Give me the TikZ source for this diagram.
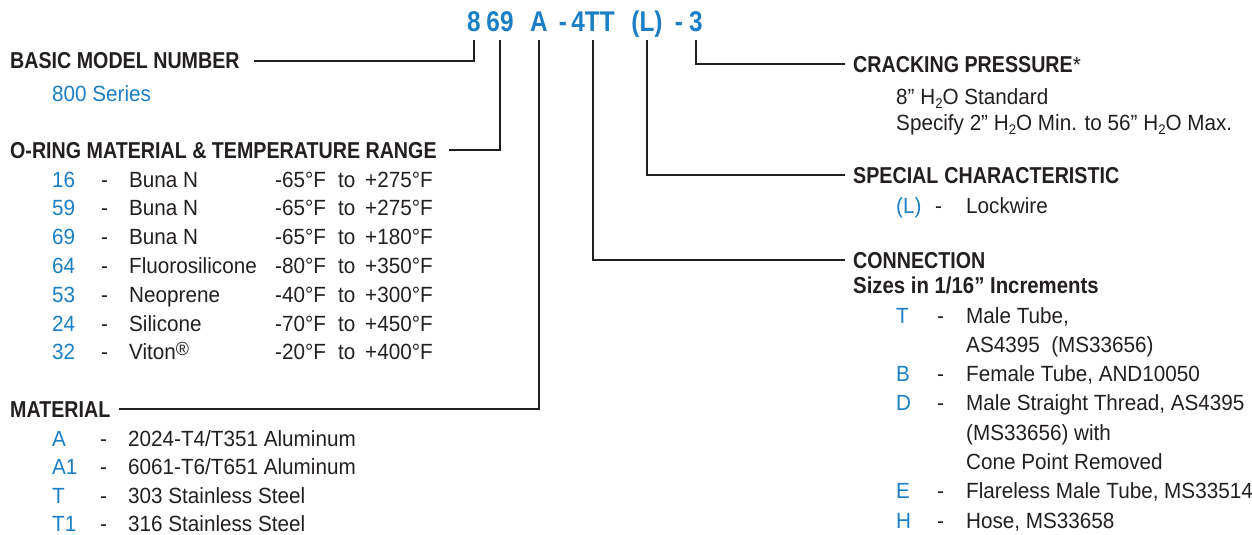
\documentclass[tikz,border=0pt]{standalone}
\usepackage{fontspec}
\setmainfont{Liberation Sans}[FakeStretch=0.94]
\newfontfamily\headfont{Liberation Sans}[FakeStretch=0.855]
\newfontfamily\subheadfont{Liberation Sans}[FakeStretch=0.885]
\definecolor{codeblue}{HTML}{1A7FC4}
\definecolor{ink}{HTML}{231F20}
% raised registered mark and lowered subscript digit
\newcommand\regmark{\raisebox{4pt}{\fontsize{19}{19}\selectfont ®}}
\newcommand\subtwo{\raisebox{-4pt}{\fontsize{14}{14}\selectfont 2}}

\tikzset{
  every node/.style={inner sep=0pt, anchor=base west, text=ink},
  head/.style={font=\headfont\bfseries\fontsize{23}{26}\selectfont},
  body/.style={font=\fontsize{22}{26}\selectfont},
  key/.style={body, text=codeblue},
  codepart/.style={font=\headfont\bfseries\fontsize{28.5}{30}\selectfont,
                   text=codeblue, anchor=base},
  conn/.style={draw=ink, line width=2pt},
}

\begin{document}
\begin{tikzpicture}[x=1pt, y=-1pt]
\path[use as bounding box] (0,0) rectangle (1252,535);

% ---- model code ----
\node[codepart] (c8)  at (474,32) {8};
\node[codepart] (c69) at (500,32) {69};
\node[codepart] (cA)  at (539,32) {A};
\node[codepart] (cd1) at (563,32) {-};
\node[codepart] (cTT) at (593,32) {4TT};
\node[codepart] (cL)  at (647,32) {(L)};
\node[codepart] (cd2) at (679,32) {-};
\node[codepart] (c3)  at (696,32) {3};

% ---- left column ----
\node[head] (hBasic) at (10,69) {BASIC MODEL NUMBER};
\node[key]  (series) at (52,101) {800 Series};

\node[head] (hRing) at (10,158) {O-RING MATERIAL \& TEMPERATURE RANGE};
\foreach \num/\mat/\tlo/\thi [count=\i] in {
    16/Buna N/-65/+275,
    59/Buna N/-65/+275,
    69/Buna N/-65/+180,
    64/Fluorosilicone/-80/+350,
    53/Neoprene/-40/+300,
    24/Silicone/-70/+450,
    32/{Viton\regmark}/-20/+400}{
  \pgfmathsetmacro\yy{187+28.8*(\i-1)}
  \node[key]  (rn\i) at (52,\yy)  {\num};
  \node[body] (rd\i) at (101,\yy) {-};
  \node[body] (rm\i) at (129,\yy) {\mat};
  \node[body] (rl\i) at (275,\yy) {\tlo°F};
  \node[body] (rt\i) at (338,\yy) {to};
  \node[body] (rh\i) at (365,\yy) {\thi°F};
}

\node[head] (hMat) at (10,417) {MATERIAL};
\foreach \code/\desc [count=\i] in {
    A/{2024-T4/T351 Aluminum},
    A1/{6061-T6/T651 Aluminum},
    T/{303 Stainless Steel},
    T1/{316 Stainless Steel}}{
  \pgfmathsetmacro\yy{446.5+28.3*(\i-1)}
  \node[key]  (mc\i) at (52,\yy)  {\code};
  \node[body] (md\i) at (100,\yy) {-};
  \node[body] (mt\i) at (128,\yy) {\desc};
}

% ---- right column ----
\node[head] (hCrack) at (853,72) {CRACKING PRESSURE{\normalfont\fontsize{22}{26}\selectfont *}};
\node[body] (cr1) at (896,104) {8” H\subtwo O Standard};
\node[body] (cr2) at (896,130) {Specify 2” H\subtwo O Min. to 56” H\subtwo O Max.};

\node[head] (hSpec) at (853,183) {SPECIAL\hspace{6pt}CHARACTERISTIC};
\node[key]  (spk) at (896,213) {(L)};
\node[body] (spd) at (935,213) {-};
\node[body] (spt) at (966,213) {Lockwire};

\node[head] (hConn) at (853,268) {CONNECTION};
\node[head, font=\subheadfont\bfseries\fontsize{23}{26}\selectfont] (hSize) at (853,293) {Sizes in 1/16” Increments};
\foreach \desc/\row in {
    {Male Tube,}/0,
    {AS4395\ \ (MS33656)}/1,
    {Female Tube, AND10050}/2,
    {Male Straight Thread, AS4395}/3,
    {(MS33656) with}/4,
    {Cone Point Removed}/5,
    {Flareless Male Tube, MS33514}/6,
    {Hose, MS33658}/7}{
  \pgfmathsetmacro\yy{323+29.3*\row}
  \node[body] (ct\row) at (966,\yy) {\desc};
}
\foreach \code/\row in {T/0,B/2,D/3,E/6,H/7}{
  \pgfmathsetmacro\yy{323+29.3*\row}
  \node[key]  (ck\row) at (896,\yy) {\code};
  \node[body] (cd\row) at (937,\yy) {-};
}

% ---- connectors ----
\draw[conn] ([yshift=-8pt]c8.base)  |- ([xshift=14pt]hBasic.east);
\draw[conn] ([yshift=-8pt]c69.base) |- ([xshift=12pt]hRing.east);
\draw[conn] ([yshift=-8pt]cA.base)  |- ([xshift=8pt]hMat.east);
\draw[conn] ([yshift=-8pt]cTT.base) |- ([xshift=-8pt]hConn.west);
\draw[conn] ([yshift=-8pt]cL.base)  |- ([xshift=-8pt]hSpec.west);
\draw[conn] ([yshift=-8pt]c3.base)  |- ([xshift=-8pt]hCrack.west);
\end{tikzpicture}
\end{document}
